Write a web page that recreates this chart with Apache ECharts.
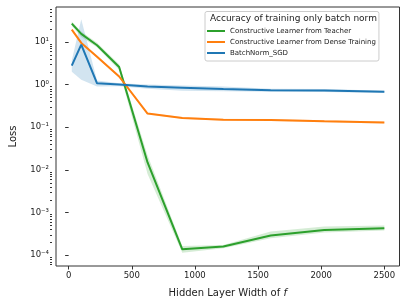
<!DOCTYPE html>
<html><head><meta charset="utf-8">
<script src="https://cdn.jsdelivr.net/npm/echarts@6/dist/echarts.min.js"></script>
<style>html,body{margin:0;padding:0;background:#fff}#c{width:407px;height:306px}</style>
</head><body><div id="c"></div>
<script>
var widths = [25, 100, 225, 400, 625, 900, 1225, 1600, 2025, 2500];
var teacher = [27, 15.5, 8.4, 2.6, 0.015, 0.000138, 0.00016, 0.00029, 0.00039, 0.00043];
var teacherLo = [24, 13, 7.5, 2.2, 0.008, 0.000115, 0.000145, 0.00025, 0.00034, 0.00038];
var teacherHi = [30, 17.5, 9.6, 3.0, 0.022, 0.000165, 0.000175, 0.00036, 0.00047, 0.0005];
var dense = [19.5, 9.5, 4.5, 1.55, 0.21, 0.166, 0.15, 0.148, 0.138, 0.129];
var denseLo = [18.5, 9.0, 4.2, 1.45, 0.2, 0.158, 0.143, 0.14, 0.131, 0.122];
var denseHi = [20.5, 10.0, 4.8, 1.65, 0.22, 0.174, 0.158, 0.156, 0.146, 0.136];
var sgd = [2.8, 8.7, 1.07, 1.0, 0.9, 0.85, 0.79, 0.74, 0.73, 0.68];
var sgdLo = [2.0, 1.3, 0.9, 0.92, 0.8, 0.72, 0.7, 0.68, 0.67, 0.64];
var sgdHi = [3.7, 34, 1.25, 1.08, 1.0, 0.95, 0.9, 0.8, 0.79, 0.72];
var xTicks = [0, 500, 1000, 1500, 2000, 2500];
var yTicks = [1e-4, 1e-3, 1e-2, 1e-1, 1, 10];
var yTickLabels = ['10\u207B\u2074', '10\u207B\u00B3', '10\u207B\u00B2', '10\u207B\u00B9', '10\u2070', '10\u00B9'];
var seriesNames = ['Constructive Learner from Teacher', 'Constructive Learner from Dense Training', 'BatchNorm_SGD'];
var colors = ['#2ca02c', '#ff7f0e', '#1f77b4'];

var yMin = 5.6e-5, yMax = 66;
var minorTicks = [];
for (var d = -5; d <= 1; d++) {
  for (var k = 2; k <= 9; k++) {
    var v = k * Math.pow(10, d);
    if (v > yMin && v < yMax) minorTicks.push(v);
  }
}
function pairs(xs, ys) { return xs.map(function (x, i) { return [x, ys[i]]; }); }

var W = 407, gridLeft = 52, gridRight = 7.5;
var mains = [teacher, dense, sgd], los = [teacherLo, denseLo, sgdLo], his = [teacherHi, denseHi, sgdHi];
var series = [];
[0, 1, 2].forEach(function (s) {
  series.push({
    type: 'custom', name: 'band' + s, silent: true, z: 1, clip: true, yAxisIndex: 1,
    data: [[widths[0], los[s][0]]],
    renderItem: function (params, api) {
      var pts = [];
      for (var i = 0; i < widths.length; i++) pts.push(api.coord([widths[i], his[s][i]]));
      for (var j = widths.length - 1; j >= 0; j--) pts.push(api.coord([widths[j], los[s][j]]));
      return { type: 'polygon', shape: { points: pts }, style: { fill: colors[s], opacity: 0.2 } };
    }
  });
});
[0, 1, 2].forEach(function (s) {
  series.push({
    type: 'line', name: seriesNames[s], data: pairs(widths, mains[s]),
    symbol: 'none', lineStyle: { color: colors[s], width: 2 }, itemStyle: { color: colors[s] }, z: 3
  });
});

var chart = echarts.init(document.getElementById('c'), null, { renderer: 'canvas' });
chart.setOption({
  animation: false,
  textStyle: { fontFamily: 'DejaVu Sans' },
  grid: { left: gridLeft, right: gridRight, top: 7, bottom: 40, show: true, borderColor: '#333', borderWidth: 1 },
  title: {
    text: 'Accuracy of training only batch norm', left: 210, top: 14,
    textStyle: { fontSize: 9, fontWeight: 'normal', color: '#222', fontFamily: 'DejaVu Sans' }, padding: 0
  },
  legend: {
    data: seriesNames, orient: 'vertical', left: 205, top: 11.5,
    padding: [15.5, 3, 4, 2], itemGap: 3, itemWidth: 18, itemHeight: 2, icon: 'rect',
    borderColor: '#ccc', borderWidth: 1, borderRadius: 2, backgroundColor: 'rgba(255,255,255,0.8)',
    textStyle: { fontSize: 7, lineHeight: 8, color: '#222', fontFamily: 'DejaVu Sans' },
    itemStyle: { borderWidth: 0 }
  },
  xAxis: {
    type: 'value', min: -100, max: 2620,
    name: 'Hidden Layer Width of {i|f}', nameLocation: 'middle', nameGap: 22,
    nameTextStyle: { fontSize: 10, color: '#222', rich: { i: { fontStyle: 'italic', fontSize: 10 } } },
    axisLine: { show: false }, splitLine: { show: false },
    axisTick: { customValues: xTicks, length: 3.5, lineStyle: { color: '#333' } },
    axisLabel: { customValues: xTicks, fontSize: 8.5, color: '#222', margin: 5, formatter: function (v) { return String(v); } }
  },
  yAxis: [{
    type: 'log', min: yMin, max: yMax, logBase: 10, position: 'left',
    name: 'Loss', nameLocation: 'middle', nameGap: 38,
    nameTextStyle: { fontSize: 10, color: '#222' },
    axisLine: { show: false }, splitLine: { show: false },
    axisTick: { customValues: yTicks, length: 3.5, lineStyle: { color: '#333' } },
    axisLabel: {
      customValues: yTicks, fontSize: 8.5, color: '#222', margin: 7,
      formatter: function (v) { var i = yTicks.findIndex(function (t) { return Math.abs(Math.log10(t) - Math.log10(v)) < 1e-6; }); return i >= 0 ? yTickLabels[i] : ''; }
    }
  }, {
    type: 'log', min: yMin, max: yMax, logBase: 10, position: 'right', offset: -(W - gridLeft - gridRight),
    axisLine: { show: false }, splitLine: { show: false },
    axisTick: { show: true, inside: true, customValues: minorTicks, length: 2, lineStyle: { color: '#333', width: 1 } },
    axisLabel: { show: false, customValues: minorTicks }
  }],
  series: series
});
</script></body></html>
